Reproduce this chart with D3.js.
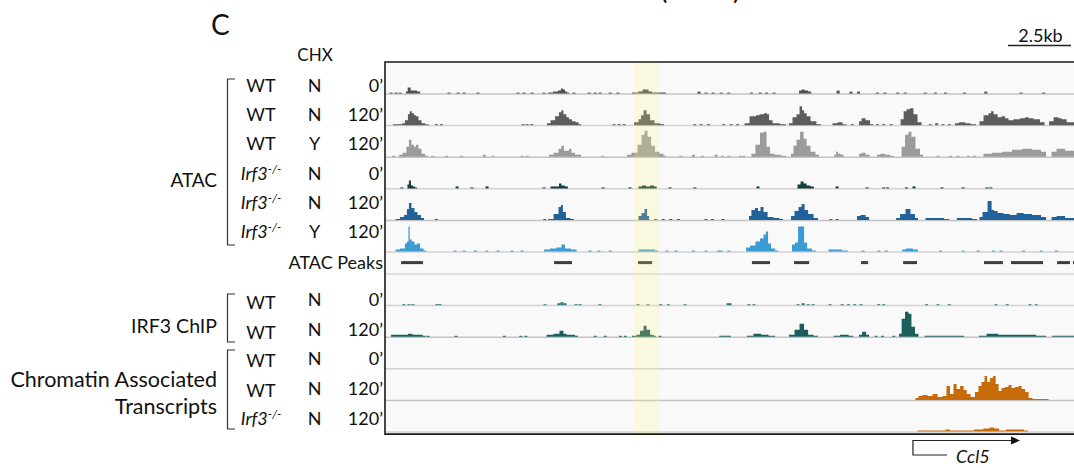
<!DOCTYPE html>
<html>
<head>
<meta charset="utf-8">
<script src="https://cdn.jsdelivr.net/npm/d3@7"></script>
<style>
  body { margin: 0; background: #fff; }
  svg { display: block; font-family: Lato, "Open Sans", sans-serif; }
</style>
</head>
<body>
<svg id="chart" width="1074" height="468"></svg>
<script>
// ---- Locus coordinates (kb from the left edge of the window) ----
const locusKb = [0, 27.3];
const highlightKb = [9.84, 10.83];
const scaleBarKb = [24.68, 27.18];
const scaleBarLabel = "2.5kb";
const geneName = "Ccl5";
const geneTssKb = 20.91;
const geneArrowEndKb = 25.16;
const geneLabelLinkKb = 22.26;

// ---- ATAC-seq signal: [kb, signal] ----
const atacWtN0 = [[0.75,0],[0.83,2],[0.89,6],[0.95,6],[1.01,3],[1.15,3],[1.31,2],[1.39,0],
  [6.35,0],[6.51,1],[6.75,2],[6.90,3],[6.98,5],[7.06,4],[7.14,2],[7.22,1],[7.30,0],
  [9.64,0],[9.90,1],[10.12,2],[10.24,4],[10.36,4],[10.48,2],[10.64,1],[11.07,1],[11.15,0],
  [16.35,0],[16.43,3],[16.55,4],[16.67,3],[16.83,2],[16.91,0]];
const atacWtN0Specks = [[0.20,1],[0.40,1],[0.56,1],[2.50,1],[2.86,1],[3.10,1],[3.65,1],[5.24,1],[5.48,1],[5.80,1],
  [6.27,1],[7.46,1],[8.06,1],[8.30,1],[8.50,1],[8.90,1],[9.20,1],[12.42,2],[12.70,1],[12.98,1],[13.30,1],[13.60,1],
  [14.50,1],[14.85,1],[15.10,1],[15.40,1],[17.94,3],[18.45,2],[18.75,2],[19.50,1],[19.80,1],[20.30,1],[20.60,1],
  [21.40,1],[21.80,1],[22.20,1],[22.95,1],[23.80,2],[25.20,1],[26.10,1]];

const atacWtN120 = [[0.16,0],[0.40,1],[0.63,1],[0.67,2],[0.83,5],[0.91,11],[0.97,14],[1.07,12],[1.15,10],[1.23,9],[1.35,5],[1.47,2],[1.63,1],[1.75,0],
  [6.35,0],[6.43,2],[6.63,5],[6.79,9],[6.94,13],[6.98,15],[7.10,11],[7.22,8],[7.30,6],[7.46,4],[7.58,3],[7.70,1],[7.78,0],
  [9.72,0],[9.96,3],[10.08,6],[10.16,10],[10.28,15],[10.40,11],[10.56,5],[10.75,2],[10.99,1],[11.07,0],
  [14.13,0],[14.33,2],[14.52,9],[14.64,9],[14.72,10],[14.92,11],[15.08,12],[15.16,11],[15.24,5],[15.44,2],[15.83,1],[15.91,0],
  [15.95,0],[16.03,2],[16.23,8],[16.35,11],[16.47,19],[16.55,15],[16.63,12],[16.75,9],[16.94,4],[17.22,1],[17.30,0],
  [17.62,0],[17.82,2],[18.02,3],[18.21,1],[18.33,0],
  [18.73,0],[18.81,4],[18.93,7],[19.13,5],[19.29,1],[19.37,0],
  [20.36,0],[20.48,6],[20.60,14],[20.71,16],[20.87,17],[20.99,11],[21.19,3],[21.31,0],
  [22.54,0],[22.62,2],[22.86,3],[23.10,2],[23.29,1],[23.53,0],
  [23.57,4],[23.85,10],[23.97,12],[24.05,14],[24.17,11],[24.37,8],[24.48,9],[24.64,7],[24.76,5],[25.04,6],[25.28,7],[25.44,8],[25.56,7],[25.83,6],[26.07,3],[26.19,0],
  [26.27,0],[26.35,4],[26.63,8],[26.75,7],[26.87,6],[27.14,3],[27.30,3]];
const atacWtN120Specks = [[2.00,1],[2.20,1],[5.44,1],[5.60,1],[5.78,1],[9.05,1],[9.25,1],[9.45,1],[12.25,1],[12.50,1],[12.80,1],
  [13.40,1],[13.70,1],[13.95,1],[18.50,1],[19.50,1],[19.75,1],[20.05,1],[21.60,1],[21.85,2],[22.10,1],[22.35,1]];

const atacWtY120 = [[0.48,0],[0.56,2],[0.75,4],[0.87,10],[0.95,17],[1.07,12],[1.15,10],[1.23,12],[1.35,8],[1.47,3],[1.63,1],[1.70,0],
  [6.43,0],[6.51,2],[6.79,4],[6.90,8],[7.02,11],[7.10,6],[7.22,6],[7.30,8],[7.42,4],[7.58,2],[7.70,2],[7.78,0],
  [9.52,0],[9.60,2],[9.88,4],[10.08,12],[10.20,22],[10.32,26],[10.44,20],[10.60,11],[10.75,5],[10.95,3],[11.07,1],[11.15,0],
  [14.44,0],[14.56,3],[14.76,12],[14.92,24],[15.04,25],[15.16,10],[15.32,3],[15.52,2],[15.83,1],[15.91,0],
  [16.03,0],[16.11,3],[16.23,11],[16.35,17],[16.51,25],[16.63,18],[16.75,11],[16.94,5],[17.14,2],[17.22,0],
  [17.74,0],[17.82,2],[17.90,5],[17.98,3],[18.10,2],[18.21,0],
  [18.73,0],[18.81,3],[18.93,4],[19.13,2],[19.25,0],
  [19.45,0],[19.52,2],[19.70,3],[19.90,2],[20.10,1],[20.20,0],
  [20.40,0],[20.52,10],[20.67,22],[20.79,25],[20.91,20],[21.11,8],[21.27,2],[21.35,0],
  [23.57,0],[23.85,3],[24.25,4],[24.64,5],[25.04,7],[25.44,8],[25.83,7],[26.15,5],[26.23,0],
  [26.35,0],[26.47,5],[26.75,8],[27.14,6],[27.30,6]];
const atacWtY120Specks = [[0.30,1],[1.85,1],[2.40,1],[3.00,1],[3.90,2],[4.25,1],[5.40,1],[5.60,1],[8.60,1],[11.70,1],[12.20,2],
  [12.55,1],[13.10,2],[13.35,1],[13.60,1],[14.05,1],[14.20,1],[21.90,1],[22.40,1],[22.70,1],[23.10,1],[23.35,1]];

const atacIrfN0 = [[0.83,0],[0.87,4],[0.95,8],[1.03,3],[1.11,2],[1.19,1],[1.27,0],
  [6.43,0],[6.63,2],[6.83,2],[6.90,5],[7.02,3],[7.18,2],[7.26,0],
  [9.96,0],[10.08,2],[10.24,3],[10.40,2],[10.56,3],[10.70,2],[10.78,0],
  [16.27,0],[16.39,4],[16.51,7],[16.63,5],[16.75,3],[16.94,2],[17.02,0]];
const atacIrfN0Specks = [[0.63,1],[2.82,2],[3.41,1],[4.01,2],[6.27,1],[8.61,1],[9.68,1],[11.27,1],[12.26,1],[14.76,2],
  [17.90,2],[19.09,1],[19.75,1],[19.90,1],[20.65,1],[20.95,2],[22.06,1],[22.90,1],[23.85,1],[24.00,1]];

const atacIrfN120 = [[0.40,0],[0.48,1],[0.63,3],[0.79,5],[0.87,11],[0.95,17],[1.07,12],[1.19,8],[1.31,5],[1.47,2],[1.55,0],
  [6.35,0],[6.51,1],[6.79,6],[6.90,13],[6.98,15],[7.06,8],[7.22,2],[7.42,1],[7.50,0],
  [9.96,0],[10.08,4],[10.20,7],[10.32,11],[10.40,4],[10.48,0],
  [14.37,0],[14.44,4],[14.56,10],[14.72,12],[14.80,9],[14.92,13],[15.04,8],[15.24,3],[15.52,2],[15.71,1],[15.79,0],
  [16.03,0],[16.11,4],[16.31,9],[16.43,13],[16.55,16],[16.67,10],[16.83,6],[17.10,2],[17.18,0],
  [18.65,0],[18.73,4],[18.93,5],[19.13,3],[19.21,0],
  [20.20,0],[20.28,2],[20.52,6],[20.71,11],[20.91,6],[21.07,2],[21.15,0],
  [21.35,0],[21.47,2],[21.98,2],[22.30,1],[22.40,0],
  [22.60,0],[22.70,2],[23.10,2],[23.40,1],[23.49,0],
  [23.53,0],[23.57,3],[23.77,8],[23.97,19],[24.09,10],[24.17,9],[24.37,7],[24.64,6],[24.88,5],[25.16,7],[25.44,6],[25.83,5],[26.15,3],[26.23,0],
  [26.35,0],[26.47,3],[26.75,4],[27.14,2],[27.30,2]];
const atacIrfN120Specks = [[0.44,1],[2.00,1],[6.30,1],[10.70,1],[11.00,1],[11.30,1],[11.60,1],[12.70,1],[12.95,1],[13.37,1],[17.65,1],[17.90,1]];

const atacIrfY120 = [[0.36,0],[0.40,2],[0.71,3],[0.79,8],[0.87,10],[0.91,25],[0.97,12],[1.07,10],[1.19,7],[1.27,8],[1.43,3],[1.55,1],[1.63,0],
  [6.15,0],[6.39,2],[6.63,3],[6.90,4],[7.02,7],[7.18,3],[7.50,2],[7.62,0],
  [9.96,0],[10.08,2],[10.60,2],[10.75,1],[10.83,0],
  [14.25,0],[14.33,4],[14.56,6],[14.76,10],[14.92,13],[15.04,17],[15.12,20],[15.20,8],[15.36,3],[15.52,1],[15.60,0],
  [16.07,0],[16.15,7],[16.31,9],[16.39,25],[16.55,25],[16.63,9],[16.79,3],[17.02,1],[17.10,0],
  [17.50,0],[17.62,2],[17.90,2],[18.29,1],[18.37,0],
  [20.44,0],[20.52,2],[20.75,3],[21.07,2],[21.15,0]];
const atacIrfY120Specks = [[2.74,1],[3.10,1],[3.55,1],[4.00,1],[4.45,1],[5.00,1],[5.40,1],[8.10,1],[8.45,1],[8.90,1],[11.15,1],
  [11.50,1],[12.20,1],[12.70,1],[13.20,1],[13.30,1],[13.60,1],[18.93,1],[19.55,1],[19.85,1],[22.00,1],[22.90,1],[23.50,1],
  [24.10,1],[24.40,1],[25.30,1],[26.00,1],[26.60,1]];

// ---- Called ATAC peaks: [startKb, endKb] ----
const atacPeaks = [[0.60,1.47],[6.67,7.38],[10.00,10.56],[14.52,15.24],[16.19,16.79],[18.85,19.13],
  [20.52,21.07],[23.73,24.48],[24.80,26.07],[26.63,27.14],[27.26,27.60]];

// ---- IRF3 ChIP-seq signal ----
const chipWtN0 = [];
const chipWtN0Specks = [[0.71,1],[0.91,1],[1.07,1],[2.02,1],[2.14,1],[6.31,1],[6.86,2],[6.98,3],[7.10,2],[7.54,1],[7.70,1],
  [8.49,1],[10.00,1],[10.40,1],[10.90,1],[11.20,1],[11.87,1],[13.57,2],[13.65,2],[14.40,1],[14.60,1],[16.35,1],[16.55,2],
  [16.75,1],[16.95,1],[17.62,1],[18.10,1],[18.35,1],[18.60,1],[18.85,1],[19.55,1],[19.75,1],[21.45,1],[21.90,1],[22.35,1],
  [24.20,1],[24.65,1],[25.55,1],[25.80,1]];

const chipWtN120 = [[0.16,0],[0.24,2],[0.63,2],[0.79,2],[0.95,3],[1.15,2],[1.35,2],[1.55,1],[1.60,0],
  [6.23,0],[6.51,2],[6.79,3],[6.98,6],[7.10,3],[7.22,2],[7.42,2],[7.58,1],[7.66,0],
  [9.64,0],[9.88,1],[10.00,2],[10.16,6],[10.28,11],[10.40,7],[10.56,2],[10.67,1],[10.75,0],
  [13.20,0],[13.25,1],[13.65,1],[13.73,0],
  [14.25,0],[14.40,1],[14.76,3],[15.00,2],[15.36,1],[15.52,0],
  [15.87,0],[16.11,2],[16.31,7],[16.51,13],[16.67,7],[16.83,2],[17.10,1],[17.18,0],
  [17.70,0],[17.82,1],[18.21,2],[18.50,1],[18.58,0],
  [18.73,0],[18.81,2],[18.97,5],[19.13,2],[19.21,0],
  [20.32,0],[20.40,3],[20.52,18],[20.67,25],[20.79,23],[20.91,10],[21.07,3],[21.19,0],
  [21.35,0],[21.40,1],[22.90,1],[22.98,0],
  [23.49,0],[23.57,1],[24.09,3],[24.50,2],[25.28,2],[25.44,2],[26.15,1],[26.23,0],
  [26.40,0],[26.47,1],[27.30,1]];
const chipWtN120Specks = [[1.67,1],[2.78,1],[4.70,1],[5.35,1],[5.55,1],[8.30,1],[8.70,1],[9.30,1],[9.50,1],[10.87,1],
  [19.45,1],[19.70,1],[20.15,1]];

// ---- Chromatin associated transcripts ----
const catWtN0 = [];
const catWtN0Specks = [];
const catWtN120 = [[20.95,0],[21.07,2],[21.19,4],[21.39,5],[21.59,4],[21.79,6],[21.98,3],[22.18,4],[22.30,14],[22.46,6],
  [22.58,16],[22.70,11],[22.86,14],[22.98,10],[23.10,6],[23.29,3],[23.45,8],[23.57,14],[23.69,18],[23.81,24],[23.89,18],
  [24.05,22],[24.13,24],[24.25,16],[24.37,9],[24.48,12],[24.64,13],[24.76,15],[24.88,12],[25.04,13],[25.16,14],[25.28,11],
  [25.44,8],[25.56,2],[25.75,1],[25.95,1],[26.10,1],[26.27,1],[26.31,0]];
const catWtN120Specks = [];
const catIrfN120 = [[21.07,0],[21.11,1],[21.79,1],[22.10,1],[22.30,2],[22.46,1],[23.10,1],[23.57,2],[23.85,3],[24.05,4],
  [24.21,3],[24.45,1],[24.76,2],[25.04,2],[25.20,2],[25.44,1],[25.52,0]];
const catIrfN120Specks = [];

// ---- Row annotations ----
const atacGenotypes = ["WT", "WT", "WT", "Irf3-/-", "Irf3-/-", "Irf3-/-"];
const atacChx = ["N", "N", "Y", "N", "N", "Y"];
const atacTimes = ["0’", "120’", "120’", "0’", "120’", "120’"];
const chipGenotypes = ["WT", "WT"];
const chipChx = ["N", "N"];
const chipTimes = ["0’", "120’"];
const catGenotypes = ["WT", "WT", "Irf3-/-"];
const catChx = ["N", "N", "N"];
const catTimes = ["0’", "120’", "120’"];

// ---- Track table ----
const trackColors = {
  wtN: "#505050", wtN120: "#5c5c5c", wtY: "#9b9b9b",
  irfN0: "#133f3c", irfN120: "#22629a", irfY: "#3b9bd3",
  peaks: "#3d3d3d", chip0: "#2f7d7a", chip120: "#1b5f5d", cat: "#c76a08"
};
const TH = 31.6;   // signal track height
const PH = 22;     // peak track height
const tracks = [
  { signal: atacWtN0,    specks: atacWtN0Specks,    color: trackColors.wtN,    h: TH },
  { signal: atacWtN120,  specks: atacWtN120Specks,  color: trackColors.wtN120, h: TH },
  { signal: atacWtY120,  specks: atacWtY120Specks,  color: trackColors.wtY,    h: TH },
  { signal: atacIrfN0,   specks: atacIrfN0Specks,   color: trackColors.irfN0,  h: TH },
  { signal: atacIrfN120, specks: atacIrfN120Specks, color: trackColors.irfN120,h: TH },
  { signal: atacIrfY120, specks: atacIrfY120Specks, color: trackColors.irfY,   h: TH },
  { peaks: atacPeaks,                                color: trackColors.peaks,  h: PH },
  { signal: chipWtN0,    specks: chipWtN0Specks,    color: trackColors.chip0,  h: TH },
  { signal: chipWtN120,  specks: chipWtN120Specks,  color: trackColors.chip120,h: TH },
  { signal: catWtN0,     specks: catWtN0Specks,     color: trackColors.cat,    h: TH },
  { signal: catWtN120,   specks: catWtN120Specks,   color: trackColors.cat,    h: TH },
  { signal: catIrfN120,  specks: catIrfN120Specks,  color: trackColors.cat,    h: TH }
];

const panel = { left: 385, top: 62, right: 1074 };
let acc = panel.top;
tracks.forEach(t => { t.top = acc; acc += t.h; t.base = acc; });
panel.bottom = acc + 2.5;

const svg = d3.select("#chart");
const x = d3.scaleLinear().domain(locusKb).range([386, 1074]);

svg.append("defs").append("clipPath").attr("id", "panelClip")
  .append("rect").attr("x", panel.left).attr("y", panel.top)
  .attr("width", panel.right - panel.left).attr("height", panel.bottom - panel.top);

// Panel background
svg.append("rect").attr("x", panel.left).attr("y", panel.top)
  .attr("width", panel.right - panel.left).attr("height", panel.bottom - panel.top)
  .attr("fill", "#f9f9f9");

const plot = svg.append("g").attr("clip-path", "url(#panelClip)");

tracks.forEach((t, i) => {
  const g = plot.append("g");
  if (t.peaks) {
    g.append("line").attr("x1", panel.left).attr("x2", panel.right)
      .attr("y1", t.base + 0.5).attr("y2", t.base + 0.5)
      .attr("stroke", "#e0e0e0").attr("stroke-width", 2);
    const mid = t.top + 11;
    g.selectAll("rect.pk").data(t.peaks).join("rect")
      .attr("x", d => x(d[0])).attr("width", d => x(d[1]) - x(d[0]))
      .attr("y", mid - 1.5).attr("height", 3).attr("fill", t.color);
    return;
  }
  const y = d3.scaleLinear().domain([0, 30]).range([t.base, t.base - 30]);
  g.append("line").attr("x1", panel.left).attr("x2", panel.right)
    .attr("y1", t.base + 0.4).attr("y2", t.base + 0.4)
    .attr("stroke", i % 2 ? "#d2d2d2" : "#c4c4c4").attr("stroke-width", 1.5);
  if (t.signal.length) {
    const area = d3.area().curve(d3.curveStep)
      .x(d => x(d[0])).y0(t.base).y1(d => y(d[1]));
    g.append("path").datum(t.signal).attr("d", area).attr("fill", t.color);
  }
  g.selectAll("rect.sp").data(t.specks).join("rect")
    .attr("x", d => x(d[0]) - 1.5).attr("width", 3)
    .attr("y", d => y(d[1])).attr("height", d => t.base - y(d[1]))
    .attr("fill", t.color);
});

// Highlighted region
plot.append("rect")
  .attr("x", x(highlightKb[0])).attr("width", x(highlightKb[1]) - x(highlightKb[0]))
  .attr("y", panel.top).attr("height", panel.bottom - panel.top)
  .attr("fill", "rgb(255,245,120)").attr("fill-opacity", 0.2);

// Panel frame (left, top, bottom)
svg.append("path")
  .attr("d", `M${panel.right},${panel.top}H${panel.left}V${panel.bottom}H${panel.right}`)
  .attr("fill", "none").attr("stroke", "#1a1a1a").attr("stroke-width", 1.6);

// ---- Text ----
const txt = svg.append("g").attr("fill", "#111");

txt.append("text").attr("x", 211).attr("y", 35).attr("font-size", 28).text("C");
txt.append("text").attr("x", 660).attr("y", -1).attr("font-size", 28).text("(");
txt.append("text").attr("x", 733).attr("y", -1).attr("font-size", 28).text(")");
txt.append("text").attr("x", 315).attr("y", 61).attr("font-size", 17).attr("text-anchor", "middle").text("CHX");

function genotype(sel, label) {
  if (label.endsWith("-/-")) {
    sel.append("tspan").attr("font-style", "italic").text(label.replace("-/-", ""));
    sel.append("tspan").attr("font-style", "italic").attr("font-size", 12).attr("dy", -7).text("-/-");
  } else {
    sel.text(label);
  }
}

function rows(genos, chx, times, ys, wtShift) {
  genos.forEach((gt, i) => {
    const isWt = !gt.endsWith("-/-");
    const t = txt.append("text").attr("x", 261).attr("y", ys[i] + (isWt ? wtShift : 0))
      .attr("font-size", 18).attr("text-anchor", "middle");
    genotype(t, gt);
    txt.append("text").attr("x", 314.5).attr("y", ys[i]).attr("font-size", 18)
      .attr("text-anchor", "middle").text(chx[i]);
    txt.append("text").attr("x", 383).attr("y", ys[i]).attr("font-size", 18)
      .attr("text-anchor", "end").text(times[i]);
  });
}
rows(atacGenotypes, atacChx, atacTimes, atacGenotypes.map((_, i) => 92 + i * 29.2), 0);
rows(chipGenotypes, chipChx, chipTimes, chipGenotypes.map((_, i) => 306 + i * 29.5), 3);
rows(catGenotypes, catChx, catTimes, catGenotypes.map((_, i) => 365 + i * 30), 2);

txt.append("text").attr("x", 383).attr("y", 269).attr("font-size", 18)
  .attr("text-anchor", "end").text("ATAC Peaks");

const groupLabels = [
  { lines: ["ATAC"], y: 187, size: 19 },
  { lines: ["IRF3 ChIP"], y: 333, size: 19.5 },
  { lines: ["Chromatin Associated", "Transcripts"], y: 387, size: 21.5 }
];
groupLabels.forEach(g => {
  g.lines.forEach((l, j) => {
    txt.append("text").attr("x", 217).attr("y", g.y + j * 26.5).attr("font-size", g.size)
      .attr("text-anchor", "end").text(l);
  });
});

// Brackets
const brackets = [[79, 245], [294, 342], [350, 429]];
svg.append("g").selectAll("path").data(brackets).join("path")
  .attr("d", d => `M235,${d[0]}H227.5V${d[1]}H235`)
  .attr("fill", "none").attr("stroke", "#333").attr("stroke-width", 1.2);

// Scale bar
svg.append("line").attr("x1", x(scaleBarKb[0])).attr("x2", x(scaleBarKb[1]))
  .attr("y1", 45.5).attr("y2", 45.5).attr("stroke", "#222").attr("stroke-width", 1.5);
txt.append("text").attr("x", (x(scaleBarKb[0]) + x(scaleBarKb[1])) / 2 + 1).attr("y", 42)
  .attr("font-size", 18).attr("text-anchor", "middle").text(scaleBarLabel);

// Gene model
const gTop = 440.5, gBot = 455;
svg.append("path")
  .attr("d", `M${x(geneArrowEndKb) - 8},${gTop}H${x(geneTssKb)}V${gBot}H${x(geneLabelLinkKb)}`)
  .attr("fill", "none").attr("stroke", "#222").attr("stroke-width", 1.2);
svg.append("path")
  .attr("d", `M${x(geneArrowEndKb) - 9},${gTop - 4}L${x(geneArrowEndKb)},${gTop}L${x(geneArrowEndKb) - 9},${gTop + 4}Z`)
  .attr("fill", "#111");
txt.append("text").attr("x", x(geneLabelLinkKb) + 9).attr("y", 463).attr("font-size", 18)
  .attr("font-style", "italic").text(geneName);
</script>
</body>
</html>
